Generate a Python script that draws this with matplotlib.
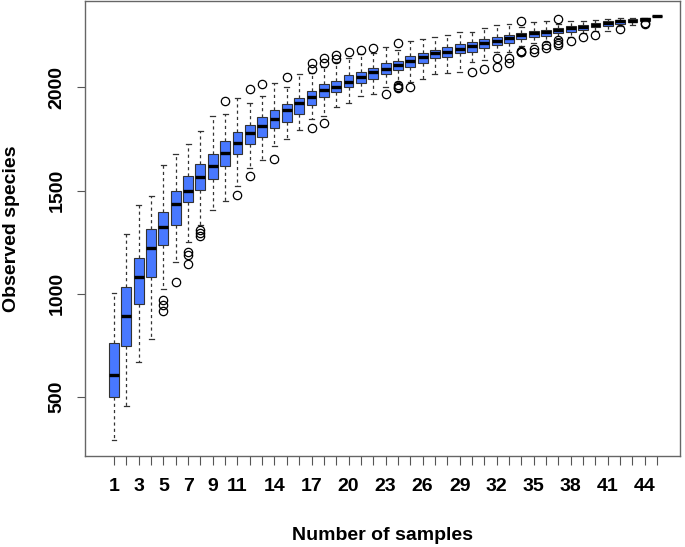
"""species accumulation boxplot: observed species vs number of samples"""

import matplotlib
matplotlib.use("Agg")
import matplotlib.pyplot as plt


###################################################################################################
#                                              DATA                                               #

samples = list(range(1, 46))
shown_labels = [1, 3, 5, 7, 9, 11, 14, 17, 20, 23, 26, 29, 32, 35, 38, 41, 44]

q1 = [500, 748, 950, 1084, 1237, 1334, 1443, 1503, 1554, 1619, 1676, 1724, 1758, 1804, 1834,
      1872, 1914, 1951, 1979, 2003, 2022, 2040, 2062, 2083, 2099, 2118, 2140, 2148, 2164, 2172,
      2189, 2205, 2213, 2233, 2242, 2248, 2261, 2269, 2277, 2289, 2298, 2306, 2313, 2322, 2344]
med = [606, 895, 1084, 1223, 1325, 1434, 1499, 1566, 1620, 1684, 1729, 1777, 1814, 1847, 1888,
       1922, 1951, 1987, 2003, 2027, 2048, 2072, 2088, 2107, 2128, 2145, 2164, 2172, 2185, 2200,
       2213, 2224, 2237, 2253, 2261, 2269, 2277, 2285, 2289, 2302, 2310, 2318, 2322, 2329, 2344]
q3 = [761, 1035, 1176, 1312, 1397, 1500, 1571, 1627, 1679, 1741, 1785, 1816, 1855, 1888, 1918,
      1949, 1982, 2014, 2030, 2059, 2075, 2095, 2115, 2127, 2152, 2164, 2181, 2193, 2208, 2221,
      2233, 2245, 2253, 2264, 2274, 2277, 2285, 2294, 2302, 2310, 2318, 2326, 2329, 2334, 2344]
whis_lo = [293, 459, 672, 782, 1024, 1153, 1253, 1334, 1406, 1451, 1524, 1609, 1648, 1716, 1750,
           1793, 1845, 1861, 1903, 1925, 1957, 1967, 2003, 2027, 2027, 2039, 2064, 2067, 2075, 2123,
           2131, 2169, 2172, 2197, 2213, 2221, 2237, 2245, 2264, 2274, 2274, 2294, 2302, 2318, 2344]
whis_hi = [1003, 1290, 1430, 1472, 1624, 1675, 1726, 1788, 1861, 1871, 1946, 1922, 1957, 2019, 2002,
           2064, 2070, 2099, 2123, 2140, 2161, 2164, 2196, 2181, 2225, 2233, 2245, 2253, 2266, 2269,
           2285, 2302, 2306, 2290, 2313, 2318, 2306, 2318, 2322, 2326, 2331, 2334, 2334, 2337, 2344]
outliers = [[], [], [], [], [971, 947, 918], [1060], [1205, 1189, 1145], [1309, 1296, 1280], [],
            [1933], [1478], [1989, 1571], [2014], [1652], [2051], [], [2090, 2118, 1804],
            [2142, 2118, 1826], [2156, 2137], [2168], [2181], [2191], [1967], [2212, 2011, 2003, 1995],
            [2003], [], [], [], [], [2075], [2087], [2140, 2099], [2140, 2115],
            [2318, 2176, 2172, 2168], [2184, 2172], [2205, 2189], [2329, 2229, 2213, 2205], [2225],
            [2245], [2253], [], [2282], [], [2306, 2310], []]

#                                              DATA                                               #
###################################################################################################


plt.rcParams['font.family'] = ['Liberation Sans', 'DejaVu Sans']
plt.rcParams['font.weight'] = 'bold'

fig = plt.figure(figsize=(6.85, 5.47), dpi=100)
ax = fig.add_axes([85 / 685, 91 / 547, 595 / 685, 455 / 547])

stats = []
for i in range(len(samples)):
    stats.append({
        'med': med[i], 'q1': q1[i], 'q3': q3[i],
        'whislo': whis_lo[i], 'whishi': whis_hi[i], 'fliers': outliers[i],
    })

edge = '#333333'
ax.bxp(
    stats, positions=samples, widths=0.8, capwidths=0.4, patch_artist=True,
    boxprops=dict(facecolor='#4878FF', edgecolor=edge, linewidth=0.8),
    medianprops=dict(color='black', linewidth=2.4, solid_capstyle='butt'),
    whiskerprops=dict(color=edge, linewidth=0.9, linestyle=(0, (2.5, 2.5))),
    capprops=dict(color=edge, linewidth=0.9),
    flierprops=dict(marker='o', markerfacecolor='none', markeredgecolor='black',
                    markersize=6, markeredgewidth=0.9),
)

ax.set_xlim(-1.35, 46.85)
ax.set_ylim(216, 2417)

ax.set_xticks(samples)
ax.set_xticklabels([str(s) if s in shown_labels else '' for s in samples], fontsize=14,
                   fontweight='bold')
ax.set_yticks([500, 1000, 1500, 2000])
ax.set_yticklabels(['500', '1000', '1500', '2000'], fontsize=14, fontweight='bold',
                   rotation=90, va='center')
ax.tick_params(axis='x', length=6.5, width=0.8, color='#555555', pad=9)
ax.tick_params(axis='y', length=6, width=0.8, color='#555555', pad=8)
for spine in ax.spines.values():
    spine.set_color('#666666')
    spine.set_linewidth(1.0)

ax.set_xlabel('Number of samples', fontsize=14, fontweight='bold', va='center')
ax.set_ylabel('Observed species', fontsize=14, fontweight='bold', va='center')
ax.xaxis.set_label_coords(0.5, (456 - 535) / 455)
ax.yaxis.set_label_coords((12 - 85) / 595, 0.5)

fig.savefig('out.png', dpi=100)
